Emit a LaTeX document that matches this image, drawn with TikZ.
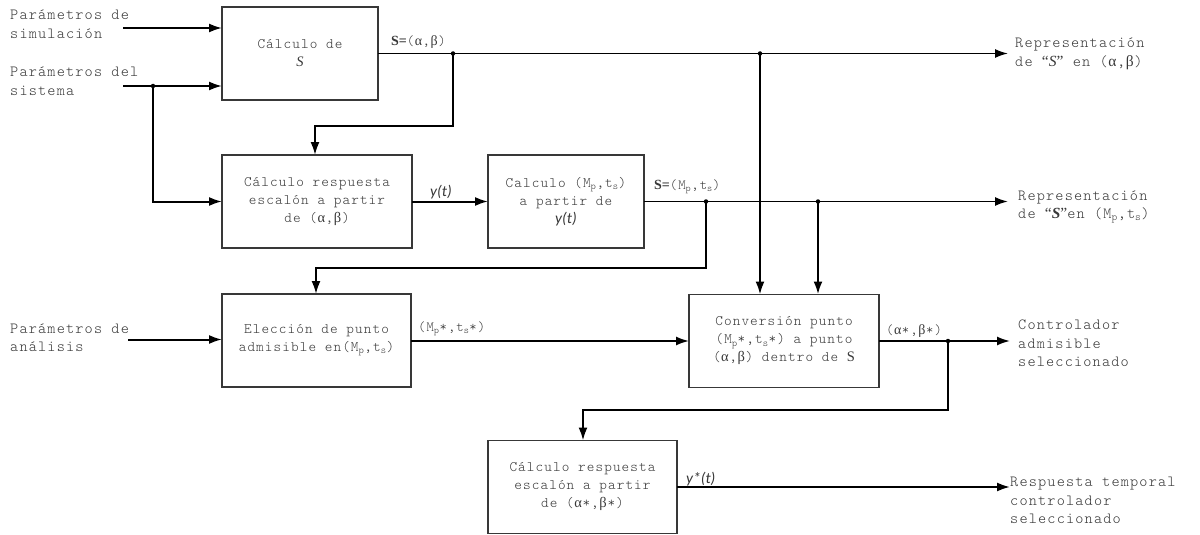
\documentclass[tikz,border=0pt]{standalone}
\usepackage{fontspec}
\setmainfont{Latin Modern Mono Light}[LetterSpace=7.6]
\newfontfamily\serifS{Liberation Serif}
\newfontfamily\calib{Carlito}
\newcommand{\myal}{\makebox[0.6em][c]{\serifS α}}
\newcommand{\mybe}{\makebox[0.6em][c]{\serifS β}}
\newcommand{\mylq}{{\serifS “}}
\newcommand{\myrq}{{\serifS ”}}
\usetikzlibrary{arrows.meta}
\definecolor{txt}{HTML}{383838}
\begin{document}
\begin{tikzpicture}[x=1pt,y=-1pt,
  blk/.style={draw=txt, line width=1.3pt, minimum width=#1, minimum height=93pt,
    inner sep=0pt, outer sep=0pt, align=center, text=txt,
    font=\fontsize{14.5}{18}\selectfont},
  lbl/.style={text=txt, inner sep=0pt, align=left, font=\fontsize{15.5}{18.5}\selectfont},
  slbl/.style={text=txt, inner sep=0pt, anchor=west, font=\fontsize{14}{17}\selectfont},
  arr/.style={-{Latex[length=13pt,width=9pt]}, line width=2pt},
  dot/.style={circle, fill=black, inner sep=0pt, minimum size=4.5pt}
]
\useasboundingbox (0,0) rectangle (1200,535);

% blocks
\node[blk=156pt] (b1) at (300,53.5) {Cálculo de\\{\serifS\itshape S}};
\node[blk=190pt] (b2) at (317,201.5) {Cálculo respuesta\\escalón a partir \\de (\myal,\mybe)};
\node[blk=156pt] (b3) at (566,201.5) {Calculo (M\textsubscript{p},t\textsubscript{s})\\a partir de\\{\calib\itshape\fontsize{15.5}{18}\selectfont y(t)}};
\node[blk=189pt] (b4) at (316.5,340.5) {Elección de punto\\admisible en(M\textsubscript{p},t\textsubscript{s})};
\node[blk=190pt] (b5) at (784,341) {Conversión punto\\(M\textsubscript{p}*,t\textsubscript{s}*) a punto\\(\myal,\mybe) dentro de {\serifS S}};
\node[blk=189pt] (b6) at (582.5,487) {Cálculo respuesta\\escalón a partir \\de (\myal*,\mybe*)};

% input texts
\node[lbl, anchor=west] (t1) at (10,24) {Parámetros de\\simulación};
\node[lbl, anchor=west] (t2) at (10,81) {Parámetros del\\sistema};
\node[lbl, anchor=west] (t3) at (10,337.5) {Parámetros de\\análisis};

% output texts
\node[lbl, anchor=west] (r1) at (1015,54) {Representación\\de \mylq{\serifS\itshape S}\myrq{} en (\myal,\mybe)};
\node[lbl, anchor=west] (r2) at (1018,207) {Representación\\de \mylq{\serifS\itshape\bfseries S}\myrq en (M\textsubscript{p},t\textsubscript{s})};
\node[lbl, anchor=west] (r3) at (1018,343.5) {Controlador\\admisible\\seleccionado};
\node[lbl, anchor=west] (r4) at (1010,500.5) {Respuesta temporal\\controlador\\seleccionado};

% free ends and corners
\coordinate (in1) at (123,28);
\coordinate (in2) at (123,86);
\coordinate (in3) at (128,339.5);
\coordinate (o1) at (1008,53.5);
\coordinate (o2) at (1008,201.5);
\coordinate (o3) at (1010,341);
\coordinate (o4) at (1010,487);
\coordinate (j0) at (153,86);
\coordinate (j1) at (453,53.5);
\coordinate (j2) at (760,53.5);
\coordinate (j3) at (706,201.5);
\coordinate (j4) at (818,201.5);
\coordinate (j5) at (948,341);
\coordinate (k1) at (315,126);
\coordinate (k3) at (316,268);
\coordinate (k5) at (583,410);

% inputs
\draw[arr] (in1) -- (in1 -| b1.west);
\draw[arr] (in2) -- (in2 -| b1.west);
\draw[arr] (in3) -- (in3 -| b4.west);
\draw[arr] (j0) |- (b2.west);

% top row
\draw[arr, line width=1.6pt] (b1.east |- o1) -- (o1);
\draw[arr] (j1) |- (k1) -- (k1 |- b2.north);
\draw[arr] (j2) -- (j2 |- b5.north);

% second row
\draw[arr] (b2.east) -- (b3.west);
\draw[arr, line width=1.8pt] (b3.east) -- (o2);
\draw[arr] (j3) |- (k3) -- (k3 |- b4.north);
\draw[arr, line width=2.4pt] (j4) -- (j4 |- b5.north);

% third row
\draw[arr, line width=1.8pt] (b4.east |- b5.west) -- (b5.west);
\draw[arr, line width=1.8pt] (b5.east) -- (o3);
\draw[arr] (j5) |- (k5) -- (k5 |- b6.north);

% fourth row
\draw[arr] (b6.east) -- (o4);

% junction dots
\foreach \p in {j0,j1,j2,j3,j4,j5} \node[dot] at (\p) {};

% signal labels
\node[slbl] (s1) at (391,42) {{\serifS\bfseries S=}(\myal,\mybe)};
\node[slbl] (s2) at (430,192) {\calib\itshape\fontsize{15.5}{18}\selectfont y(t)};
\node[slbl] (s3) at (654,187) {{\serifS\bfseries S=}(M\textsubscript{p},t\textsubscript{s})};
\node[slbl] (s4) at (418,329) {(M\textsubscript{p}*,t\textsubscript{s}*)};
\node[slbl] (s5) at (886,331) {(\myal*,\mybe*)};
\node[slbl] (s6) at (686,479) {\calib\itshape\fontsize{15.5}{18}\selectfont y*(t)};
\end{tikzpicture}
\end{document}
